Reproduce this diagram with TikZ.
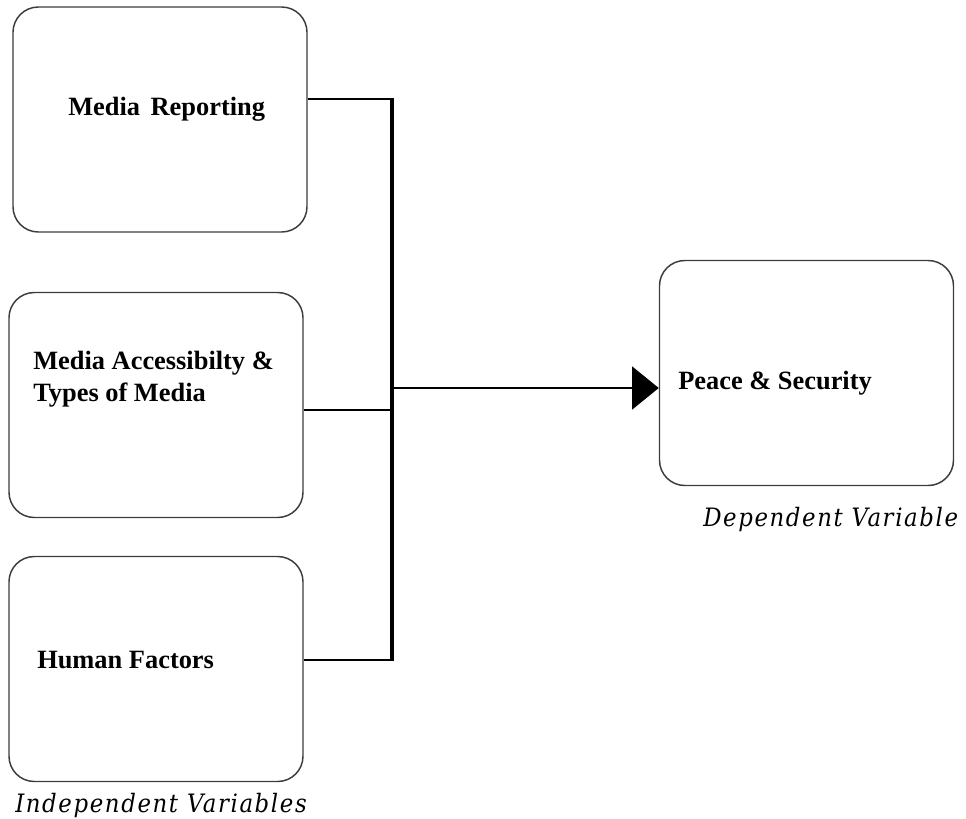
\documentclass[tikz,border=0pt]{standalone}
\usepackage{fontspec}
\setmainfont{Liberation Serif}
\newfontfamily\slabfont[LetterSpace=6.5]{DejaVu Serif Condensed}
\usetikzlibrary{arrows.meta}
\definecolor{boxline}{RGB}{60,60,60}
\begin{document}
\begin{tikzpicture}[x=0.75pt,y=-0.75pt,
  varbox/.style={draw=boxline,line width=1.1pt,rounded corners=19pt,
    minimum width=220.5pt,minimum height=168.75pt,inner sep=0pt},
  boxtext/.style={font=\bfseries\fontsize{19.8}{24}\selectfont,inner sep=0pt,anchor=base west,align=left},
  captext/.style={font=\slabfont\itshape\fontsize{19}{22}\selectfont,inner sep=0pt,anchor=base west},
  link/.style={line width=2.2pt,line cap=butt},
  trunk/.style={line width=3.6pt}]
\useasboundingbox (0,0) rectangle (966,818);
% boxes
\node[varbox] (b1) at (160,119.5) {};
\node[varbox] (b2) at (156,405) {};
\node[varbox] (b3) at (156,669) {};
\node[varbox] (b4) at (806.5,373) {};
% texts
\node[boxtext] (t1) at (68,115) {Media\hspace{0.4em}Reporting};
\node[boxtext] (t2) at (33,401.5) {Media Accessibilty \&\\Types of Media};
\node[boxtext] (t3) at (37,668) {Human Factors};
\node[boxtext] (t4) at (678,389) {Peace \& Security};
\node[captext] (c1) at (15,812) {Independent Variables};
\node[captext] (c2) at (703,526) {Dependent Variable};
% connectors
\coordinate (jtop) at (392,99);
\coordinate (jmid) at (392,410);
\coordinate (jout) at (392,388);
\coordinate (jbot) at (392,660);
\draw[link] (b1.east |- jtop) -- (jtop);
\draw[link] (b2.east |- jmid) -- (jmid);
\draw[link] (b3.east |- jbot) -- (jbot);
\draw[trunk] ([yshift=1.1pt]jtop) -- ([yshift=-1.1pt]jbot);
\draw[link,-{Triangle[length=20pt,width=32pt]}] (jout) -- (b4.west |- jout);
\end{tikzpicture}
\end{document}
